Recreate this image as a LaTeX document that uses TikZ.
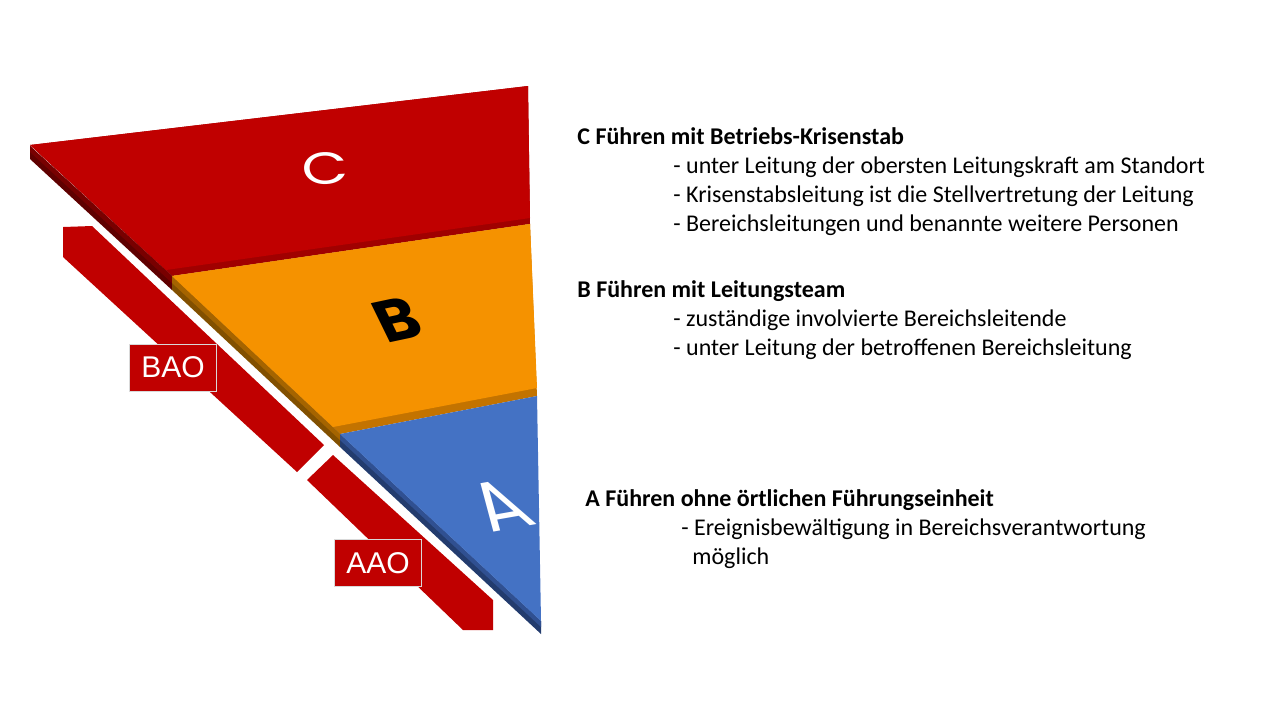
\documentclass[tikz,border=0pt]{standalone}
\usepackage{fontspec}
\setmainfont{Carlito}
\newfontfamily\arialf{Liberation Sans}
\newfontfamily\geof{Poppins}
\definecolor{cred}{RGB}{192,0,0}
\definecolor{cbot}{RGB}{160,0,0}
\definecolor{cside}{RGB}{120,0,0}
\definecolor{cside2}{RGB}{95,0,0}
\definecolor{borange}{RGB}{245,146,0}
\definecolor{bbot}{RGB}{195,115,0}
\definecolor{bside}{RGB}{165,100,0}
\definecolor{bside2}{RGB}{130,80,0}
\definecolor{ablue}{RGB}{68,114,196}
\definecolor{aside}{RGB}{48,80,145}
\definecolor{aside2}{RGB}{35,60,110}
\begin{document}
\begin{tikzpicture}[x=0.5pt,y=-0.5pt,
  heading/.style={anchor=base west, font=\fontsize{12}{14}\selectfont\bfseries, inner sep=0},
  item/.style={anchor=base west, font=\fontsize{12}{14}\selectfont, inner sep=0},
  tag/.style={fill=cred, draw=white!85!black, line width=0.5pt, text=white,
    font=\arialf\fontsize{15}{18}\selectfont, minimum width=43.5pt, minimum height=23.5pt, inner sep=0},
  letter/.style={inner sep=0}]
\useasboundingbox (0,0) rectangle (1280,720);
% C slab
\fill[cbot] (30,145) -- (528,86) -- (530,224) -- (172,276) -- cycle;
\fill[cside2] (30,146) -- (172,276) -- (172,290) -- (30,159) -- cycle;
\fill[cside] (30,146) -- (172,276) -- (172,283) -- (30,152) -- cycle;
\fill[cred] (30,145) -- (528,86) -- (530,218) -- (166,270) -- cycle;
% B slab
\fill[bbot] (172,276) -- (530,224) -- (537,396) -- (340,434) -- cycle;
\fill[bside2] (172,276) -- (340,434) -- (340,447) -- (172,290) -- cycle;
\fill[bside] (172,276) -- (340,434) -- (340,440) -- (172,283) -- cycle;
\fill[borange] (172,276) -- (530,224) -- (537,388) -- (333,427) -- cycle;
% A slab
\fill[aside2] (340,434) -- (541,621) -- (541,634) -- (340,447) -- cycle;
\fill[aside] (340,434) -- (541,621) -- (541,627) -- (340,440) -- cycle;
\fill[ablue] (340,434) -- (537,396) -- (541,621) -- cycle;
% bars
\fill[cred] (63,227) -- (92,226) -- (324,445) -- (297,472) -- (63,257) -- cycle;
\fill[cred] (333,455) -- (493,600) -- (493,630) -- (463,630) -- (307,480) -- cycle;
% letters
\node[letter, font=\geof\fontsize{30}{30}\selectfont, text=white, yscale=0.75, rotate=4] (lc) at (325,169) {C};
\node[letter, font=\geof\bfseries\fontsize{30}{30}\selectfont, text=black, rotate=12, xslant=-0.25, xscale=1.05] (lb) at (397,320) {B};
\node[letter, font=\geof\fontsize{36}{36}\selectfont, text=white, rotate=10, xslant=-0.45] (la) at (500,506) {A};
% tags
\node[tag] (bao) at (173,367.5) {BAO};
\node[tag] (aao) at (378,563) {AAO};
% texts
\node[heading] (hc) at (577,144) {C Führen mit Betriebs-Krisenstab};
\node[item] (c1) at (673,173) {- unter Leitung der obersten Leitungskraft am Standort};
\node[item] (c2) at (673,202) {- Krisenstabsleitung ist die Stellvertretung der Leitung};
\node[item] (c3) at (673,231) {- Bereichsleitungen und benannte weitere Personen};
\node[heading] (hb) at (577,297) {B Führen mit Leitungsteam};
\node[item] (b1) at (673,326) {- zuständige involvierte Bereichsleitende};
\node[item] (b2) at (673,355) {- unter Leitung der betroffenen Bereichsleitung};
\node[heading] (ha) at (585,506) {A Führen ohne örtlichen Führungseinheit};
\node[item] (a1) at (681,535) {- Ereignisbewältigung in Bereichsverantwortung};
\node[item] (a2) at (692,564) {möglich};
\end{tikzpicture}
\end{document}
